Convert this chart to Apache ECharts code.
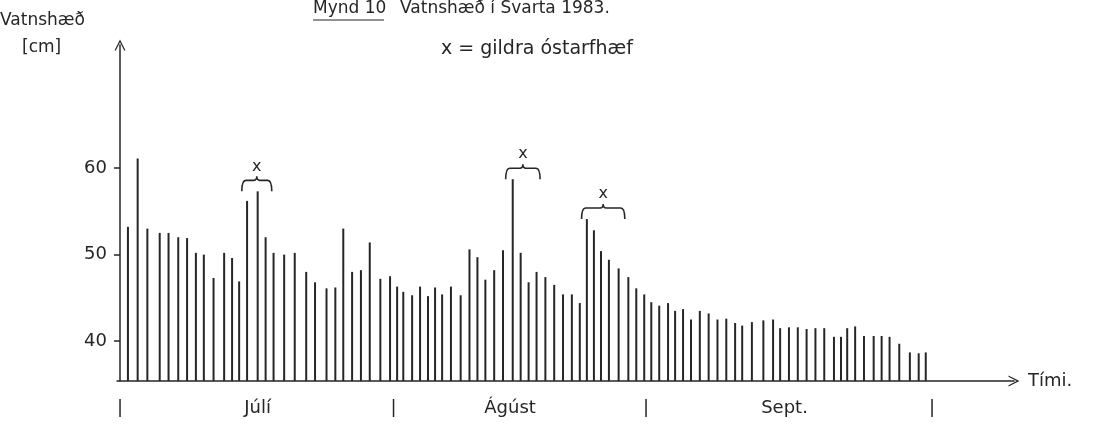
<!DOCTYPE html>
<html>
<head>
<meta charset="utf-8">
<script src="https://cdn.jsdelivr.net/npm/echarts@6/dist/echarts.min.js"></script>
<style>
  html, body { margin: 0; padding: 0; background: #fff; }
  #chart { width: 1098px; height: 427px; }
</style>
</head>
<body>
<div id="chart"></div>
<script>
// dagur frá 1. júlí (þegar mælt var)
const days = [
  0.9, 2.0, 3.1, 4.5, 5.5, 6.6, 7.6, 8.6, 9.5, 10.6,
  11.8, 12.7, 13.5, 14.4, 15.6, 16.5, 17.4, 18.6, 19.8, 21.1,
  22.1, 23.4, 24.4, 25.3, 26.3, 27.3, 28.3, 29.5, 30.6, 31.4,
  32.1, 33.1, 34.0, 34.9, 35.7, 36.5, 37.5, 38.6, 39.6, 40.5,
  41.4, 42.4, 43.4, 44.5, 45.4, 46.3, 47.2, 48.2, 49.2, 50.2,
  51.2, 52.1, 52.9, 53.7, 54.5, 55.4, 56.5, 57.6, 58.5, 59.4,
  60.2, 61.1, 62.1, 62.9, 63.8, 64.7, 65.7, 66.7, 67.7, 68.7,
  69.7, 70.5, 71.6, 72.9, 74.0, 74.8, 75.8, 76.8, 77.8, 78.8,
  79.8, 80.9, 81.7, 82.4, 83.3, 84.3, 85.4, 86.3, 87.2, 88.3,
  89.5, 90.5, 91.3
];
// vatnshæð [cm]
const levels = [
  53.2, 61.1, 53.0, 52.5, 52.5, 52.0, 51.9, 50.2, 50.0, 47.3,
  50.2, 49.6, 46.9, 56.2, 57.3, 52.0, 50.2, 50.0, 50.2, 48.0,
  46.8, 46.1, 46.2, 53.0, 48.0, 48.2, 51.4, 47.2, 47.5, 46.3,
  45.7, 45.3, 46.3, 45.2, 46.2, 45.4, 46.3, 45.3, 50.6, 49.7,
  47.1, 48.2, 50.5, 58.7, 50.2, 46.8, 48.0, 47.4, 46.5, 45.4,
  45.4, 44.4, 54.1, 52.8, 50.4, 49.4, 48.4, 47.4, 46.1, 45.4,
  44.5, 44.1, 44.4, 43.5, 43.7, 42.5, 43.5, 43.2, 42.5, 42.6,
  42.1, 41.8, 42.2, 42.4, 42.5, 41.5, 41.6, 41.6, 41.4, 41.5,
  41.5, 40.5, 40.5, 41.5, 41.7, 40.6, 40.6, 40.6, 40.5, 39.7,
  38.7, 38.6, 38.7
];
// x = gildra óstarfhæf (frá degi, til dags)
const faultSpans = [[13.8, 17.2], [43.7, 47.6], [52.3, 57.2]];

const yTicks = [40, 50, 60];
const monthMarks = [0, 15.6, 31.0, 44.2, 59.6, 75.3, 92.0];
const monthText = ['|', 'Júlí', '|', 'Ágúst', '|', 'Sept.', '|'];

const ink = '#262626';
const font = 'DejaVu Sans';

const faultData = faultSpans.map(function (s) {
  let top = 0;
  days.forEach(function (d, i) {
    if (d >= s[0] && d <= s[1]) top = Math.max(top, levels[i]);
  });
  return [s[0], s[1], top];
});

const arrow = 'path://M0,10 L5,0 L10,10 L8.8,10 L5,2.6 L1.2,10 Z';

let chart = echarts.init(document.getElementById('chart'));
chart.setOption({
  animation: false,
  backgroundColor: '#fff',
  grid: { left: 117, right: 84, top: 45, bottom: 46, containLabel: false },
  xAxis: {
    type: 'value',
    min: -0.34,
    max: 101.3,
    name: 'Tími.',
    nameLocation: 'end',
    nameGap: 14,
    nameTextStyle: { color: ink, fontSize: 18, fontFamily: font, verticalAlign: 'middle', padding: [6, 0, 0, 0] },
    axisLine: {
      show: true,
      lineStyle: { color: ink, width: 1.5 },
      symbol: ['none', arrow],
      symbolSize: [11, 14]
    },
    axisTick: { show: false },
    splitLine: { show: false },
    axisLabel: {
      customValues: monthMarks,
      margin: 18,
      color: ink,
      fontSize: 18,
      fontFamily: font,
      formatter: function (v) {
        return monthText[monthMarks.indexOf(v)];
      }
    }
  },
  yAxis: {
    type: 'value',
    min: 35.4,
    max: 74.2,
    axisLine: {
      show: true,
      lineStyle: { color: ink, width: 1.5 },
      symbol: ['none', arrow],
      symbolSize: [11, 14]
    },
    axisTick: { show: true, customValues: yTicks, length: 6, lineStyle: { color: ink, width: 1.5 } },
    splitLine: { show: false },
    axisLabel: {
      customValues: yTicks,
      margin: 10,
      color: ink,
      fontSize: 18,
      fontFamily: font
    }
  },
  graphic: [
    { type: 'text', left: 0, top: 12, style: { text: 'Vatnshæð', fill: ink, font: '17px ' + font } },
    { type: 'text', left: 22, top: 39, style: { text: '[cm]', fill: ink, font: '17px ' + font } },
    { type: 'text', left: 313, top: 0, style: { text: 'Mynd 10', fill: ink, font: '17px ' + font } },
    { type: 'line', shape: { x1: 313, y1: 20, x2: 384, y2: 20 }, style: { stroke: ink, lineWidth: 1.2 } },
    { type: 'text', left: 400, top: 0, style: { text: 'Vatnshæð í Svarta 1983.', fill: ink, font: '17px ' + font } },
    { type: 'text', left: 441, top: 40, style: { text: 'x = gildra óstarfhæf', fill: ink, font: '19px ' + font } }
  ],
  series: [
    {
      type: 'bar',
      barWidth: 2,
      itemStyle: { color: ink },
      data: days.map(function (d, i) { return [d, levels[i]]; })
    },
    {
      type: 'custom',
      clip: false,
      encode: { x: [0, 1], y: 2 },
      data: faultData,
      renderItem: function (params, api) {
        const a = api.coord([api.value(0), api.value(2)]);
        const b = api.coord([api.value(1), api.value(2)]);
        const y = a[1];
        const h = 11;
        const xm = (a[0] + b[0]) / 2;
        const d = 'M' + a[0] + ',' + y +
          ' Q' + a[0] + ',' + (y - h) + ' ' + (a[0] + 4) + ',' + (y - h) +
          ' L' + (xm - 3) + ',' + (y - h) +
          ' Q' + xm + ',' + (y - h) + ' ' + xm + ',' + (y - h - 4) +
          ' Q' + xm + ',' + (y - h) + ' ' + (xm + 3) + ',' + (y - h) +
          ' L' + (b[0] - 4) + ',' + (y - h) +
          ' Q' + b[0] + ',' + (y - h) + ' ' + b[0] + ',' + y;
        return {
          type: 'group',
          children: [
            { type: 'path', shape: { pathData: d }, style: { stroke: ink, fill: null, lineWidth: 1.6 } },
            { type: 'text', style: { text: 'x', x: xm, y: y - h - 14, align: 'center', verticalAlign: 'middle', font: '16px ' + font, fill: ink } }
          ]
        };
      }
    }
  ]
});
</script>
</body>
</html>
